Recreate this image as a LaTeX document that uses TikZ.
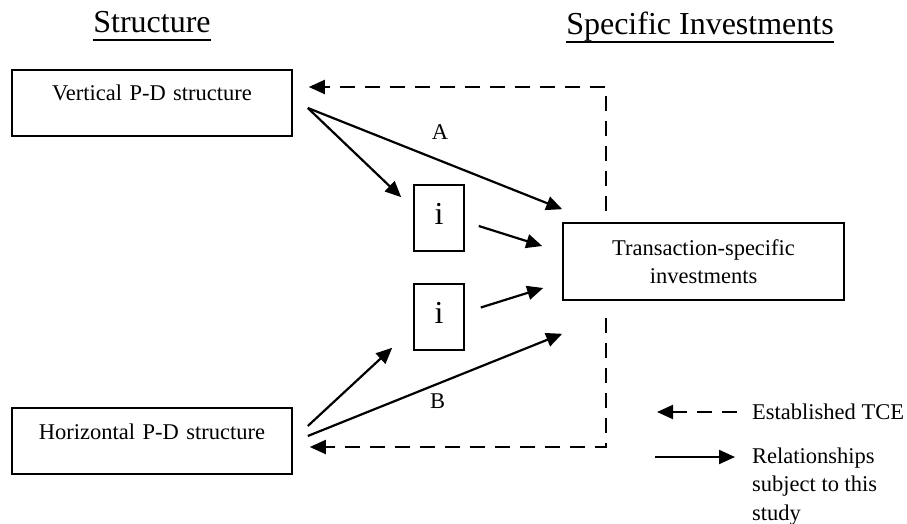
\documentclass[tikz,border=0pt]{standalone}
\usepackage{fontspec}
\setmainfont{Liberation Serif}
\usetikzlibrary{arrows.meta,calc}
\begin{document}
\begin{tikzpicture}[x=1pt,y=-1pt,
  body/.style={font=\fontsize{22.5}{28.5}\selectfont},
  heading/.style={font=\fontsize{32}{38}\selectfont, anchor=base, inner sep=0pt, text depth=7pt},
  uline/.style={line width=1.6pt},
  pdbox/.style={draw, line width=1.6pt, body, inner sep=0pt, text width=280pt,
    align=center, text height=31pt, text depth=35pt},
  ibox/.style={draw, line width=1.6pt, font=\fontsize{32}{38}\selectfont, inner sep=0pt,
    minimum width=50pt, text height=39pt, text depth=27pt},
  tsbox/.style={draw, line width=1.6pt, body, inner sep=0pt, minimum width=281pt,
    minimum height=77pt, align=center},
  rel/.style={line width=2.2pt, -{Triangle[length=16pt,width=14pt]}},
  tce/.style={line width=2pt, dash pattern=on 15pt off 10pt,
    -{Triangle[length=16pt,width=14pt]}},
]
\useasboundingbox (0,0) rectangle (907,524);

% column headings
\node[heading] (h1) at (152,33) {Structure};
\node[heading] (h2) at (700,35) {Specific Investments};
\draw[uline] (h1.south west) -- (h1.south east);
\draw[uline] (h2.south west) -- (h2.south east);

% boxes
\node[pdbox, anchor=base] (vbox) at (152,101) {Vertical P-D structure};
\node[pdbox, anchor=base] (hbox) at (152,439) {Horizontal P-D structure};
\node[ibox, anchor=base] (ia) at (439,224) {i};
\node[ibox, anchor=base] (ib) at (439,323) {i};
\node[tsbox] (tbox) at (703.5,261.5) {Transaction-specific\\investments};

% relationships studied here
\draw[rel] ($(vbox.east)+(15,5)$) -- ($(ia.north west)+(-12,13)$);
\draw[rel] ($(vbox.east)+(15,5)$) -- node[pos=0.52, yshift=29pt, body] (la) {A}
  ($(tbox.north west)+(0,-13)$);
\draw[rel] ($(ia.east)+(14,8)$) -- ($(tbox.west)+(-20,-15.5)$);
\draw[rel] ($(ib.east)+(16,-9.5)$) -- ($(tbox.west)+(-19,26.5)$);
\draw[rel] ($(hbox.east)+(15,-15)$) -- ($(ib.south west)+(-21,-3)$);
\draw[rel] ($(hbox.east)+(15,-5)$) -- node[pos=0.51, yshift=-17pt, body] (lb) {B}
  ($(tbox.south west)+(0,33)$);

% established TCE links
\coordinate (tn) at ($(tbox.north west)+(44,-11)$);
\coordinate (ts) at ($(tbox.south west)+(44,17)$);
\draw[tce] (tn) |- ($(vbox.east)+(16,-16)$);
\draw[tce] (ts) |- ($(hbox.east)+(17,6)$);

% legend
\coordinate (k1a) at (737,412);
\coordinate (k1b) at (657,412);
\draw[tce] (k1a) -- (k1b);
\node[body, anchor=west, inner sep=0pt] (k1t) at (752,412) {Established TCE};
\coordinate (k2a) at (655,457);
\coordinate (k2b) at (735,457);
\draw[rel] (k2a) -- (k2b);
\node[body, anchor=north west, align=left, inner sep=0pt] (k2t) at (752,447.5)
  {Relationships\\subject to this\\study};
\end{tikzpicture}
\end{document}
